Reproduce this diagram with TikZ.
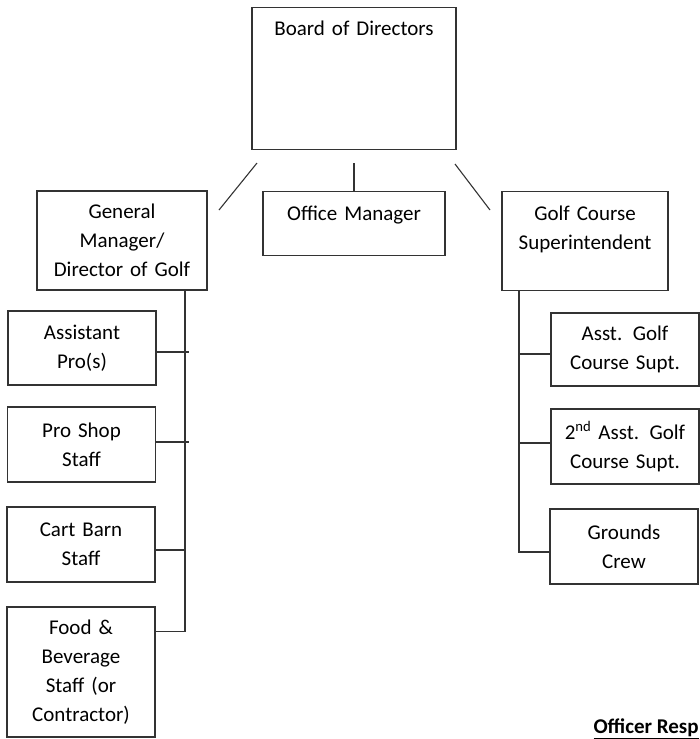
\documentclass[tikz,border=0pt]{standalone}
\usepackage{fontspec}
\setmainfont{Carlito}
\tikzset{
  post/.style={draw=black!80, line width=1.1pt, align=center, inner xsep=4pt,
    font=\fontsize{21}{29}\selectfont},
  topbox/.style={post, anchor=north, text height=15pt},
  staff/.style={post, text width=140pt, minimum height=75pt},
  wire/.style={draw=black!80, line width=1.1pt},
}
\begin{document}
\begin{tikzpicture}[x=1pt,y=-1pt]
\useasboundingbox (0,0) rectangle (700,739);

% TOP LEVEL
\node[topbox, text width=196pt, inner ysep=13pt, text depth=101pt] (board) at (354,7) {Board of Directors};

% SECOND LEVEL
\node[post, text width=162pt, minimum height=99pt] (gm) at (122,240.5) {General\\Manager/\\Director of Golf};
\node[topbox, text width=174pt, inner ysep=14pt, text depth=21pt] (office) at (354,191) {Office Manager};
\node[topbox, text width=158pt, inner ysep=14pt, text depth=56pt] (super) at (585,191) {Golf Course\\Superintendent};

% GOLF STAFF
\node[staff, minimum height=74pt] (asst) at (82,348) {Assistant\\Pro(s)};
\node[staff] (shop) at (81.5,444.5) {Pro Shop\\Staff};
\node[staff] (cart) at (81,544.5) {Cart Barn\\Staff};
\node[staff, minimum height=130pt] (food) at (81,672) {Food \&\\Beverage\\Staff (or\\Contractor)};

% COURSE STAFF
\node[staff, minimum height=73pt] (asupt) at (625,349.5) {Asst. Golf\\Course Supt.};
\node[staff] (asupt2) at (625,446.5) {2\textsuperscript{nd} Asst. Golf\\Course Supt.};
\node[staff] (crew) at (624,546.5) {Grounds\\Crew};

% CONNECTORS FROM THE BOARD
\coordinate (lt) at (257,163);
\coordinate (lb) at (219,210);
\coordinate (rt) at (455,164);
\coordinate (rb) at (490,210);
\draw[wire] (lt) -- (lb);
\draw[wire] (office.north) -- (office.north |- lt);
\draw[wire] (rt) -- (rb);

% BUS LINES
\coordinate (lbus) at (185,0);
\coordinate (lstub) at (189,0);
\coordinate (rbus) at (519,0);
\draw[wire] (gm.south -| lbus) |- ([yshift=-25pt]food.north east);
\draw[wire] ([yshift=-4pt]asst.east) -- ([yshift=-4pt]asst.east -| lstub);
\draw[wire] ([yshift=2.5pt]shop.east) -- ([yshift=2.5pt]shop.east -| lstub);
\draw[wire] ([yshift=-5.5pt]cart.east) -- ([yshift=-5.5pt]cart.east -| lbus);
\draw[wire] (super.south -| rbus) |- ([yshift=-5.5pt]crew.west);
\draw[wire] ([yshift=-4.5pt]asupt.west) -- ([yshift=-4.5pt]asupt.west -| rbus);
\draw[wire] ([yshift=3.5pt]asupt2.west) -- ([yshift=3.5pt]asupt2.west -| rbus);

% FOOTER
\node[anchor=base west, font=\fontsize{21}{29}\selectfont\bfseries] (resp) at (590,733) {\underline{Officer Resp}};

\end{tikzpicture}
\end{document}
